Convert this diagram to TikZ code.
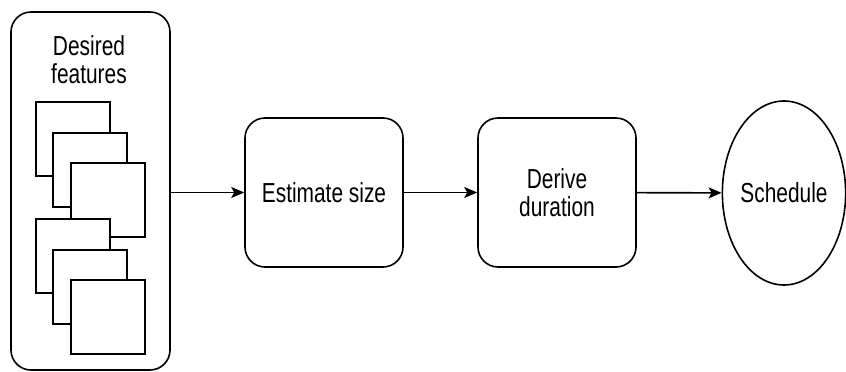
\documentclass[tikz,border=0pt]{standalone}
\usepackage{fontspec}
\setmainfont{Liberation Sans}[FakeStretch=0.76]
\usetikzlibrary{shapes.geometric,arrows.meta}

\begin{document}
\begin{tikzpicture}[x=1pt, y=-1pt, line width=1.6pt,
        font=\fontsize{27.5}{28}\selectfont,
        box/.style={draw, rectangle, rounded corners=20pt, fill=white, align=center, inner sep=0pt},
        paper/.style={draw, rectangle, fill=white, minimum width=74pt, minimum height=74pt, inner sep=0pt},
        arr/.style={-{Stealth[length=13pt, width=11pt, inset=3pt]}}]
        \useasboundingbox (0,0) rectangle (846,372);
        % Nodes
        \node[box, minimum width=159pt, minimum height=358pt] (features) at (90.5,191) {};
        \node[align=center, inner sep=0pt] (featurestext) at (89,60) {Desired\\features};
        \node[paper] (paper1) at (73,139) {};
        \node[paper] (paper2) at (90,170) {};
        \node[paper] (paper3) at (108,200) {};
        \node[paper] (paper4) at (73,256) {};
        \node[paper] (paper5) at (90,287) {};
        \node[paper] (paper6) at (108,317) {};
        \node[box, minimum width=158pt, minimum height=149pt] (estimate) at (324,192.5) {Estimate size};
        \node[box, minimum width=158pt, minimum height=149pt] (derive) at (557,192.5) {Derive\\duration};
        \node[draw, ellipse, minimum width=122pt, minimum height=184pt, inner sep=0pt] (schedule) at (784,193) {Schedule};

        % Arrows
        \draw[arr] (features.east |- estimate.west) -- (estimate.west);
        \draw[arr] (estimate) -- (derive);
        \draw[arr] (derive) -- (schedule);
    \end{tikzpicture}
\end{document}
